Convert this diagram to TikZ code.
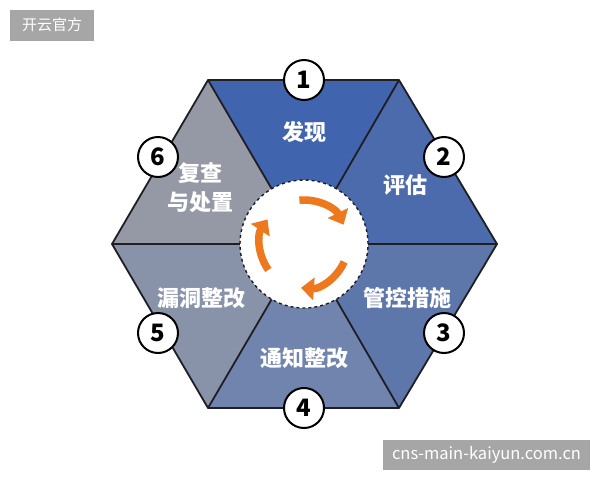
\documentclass[tikz,border=0pt]{standalone}
\usepackage{xcolor}
\usepackage{fontspec}
\newfontfamily\cjk{Noto Sans CJK SC}
\usetikzlibrary{arrows.meta}

\begin{document}
\begin{tikzpicture}[x=1pt,y=-1pt,
  seg/.style={draw={rgb,255:red,30;green,30;blue,35},line width=1.8pt,line join=round},
  lbl/.style={text=white,font=\cjk\bfseries\fontsize{22}{29}\selectfont,align=center},
  num/.style={circle,draw=black,fill=white,line width=2pt,minimum size=40pt,inner sep=0pt,font=\cjk\bfseries\fontsize{24}{24}\selectfont},
  tag/.style={fill={rgb,255:red,166;green,166;blue,166},text=white,inner sep=0pt,font=\cjk\fontsize{15}{15}\selectfont},
  swirl/.style={draw={rgb,255:red,238;green,120;blue,30},line width=7.5pt,-{Triangle[length=13pt,width=22pt]}}]
\useasboundingbox (0,0) rectangle (600,480);
\coordinate (o) at (304,244);
\coordinate (v1) at (208,80);
\coordinate (v2) at (399,80);
\coordinate (v3) at (497,244);
\coordinate (v4) at (399,408);
\coordinate (v5) at (208,408);
\coordinate (v6) at (112,244);
\fill[fill={rgb,255:red,64;green,100;blue,174}] (o) -- (v1) -- (v2) -- cycle;
\fill[fill={rgb,255:red,76;green,107;blue,172}] (o) -- (v2) -- (v3) -- cycle;
\fill[fill={rgb,255:red,94;green,119;blue,171}] (o) -- (v3) -- (v4) -- cycle;
\fill[fill={rgb,255:red,113;green,132;blue,174}] (o) -- (v4) -- (v5) -- cycle;
\fill[fill={rgb,255:red,136;green,146;blue,168}] (o) -- (v5) -- (v6) -- cycle;
\fill[fill={rgb,255:red,148;green,153;blue,165}] (o) -- (v6) -- (v1) -- cycle;
\foreach \v in {v1,v2,v3,v4,v5,v6}
  \draw[seg] (o) -- (\v);
\draw[seg] (v1) -- (v2) -- (v3) -- (v4) -- (v5) -- (v6) -- cycle;
\node[circle,fill=white,draw={rgb,255:red,30;green,30;blue,35},dashed,line width=1.4pt,minimum size=128pt,inner sep=0pt] (hub) at (o) {};
\draw[swirl] ([shift={(96:44pt)}]o) arc[start angle=96,end angle=26,radius=44pt];
\draw[swirl] ([shift={(-24:44pt)}]o) arc[start angle=-24,end angle=-94,radius=44pt];
\draw[swirl] ([shift={(216:44pt)}]o) arc[start angle=216,end angle=146,radius=44pt];
\node[lbl] (t1) at (304,132) {发现};
\node[lbl] (t2) at (405,185) {评估};
\node[lbl] (t3) at (407,298) {管控措施};
\node[lbl] (t4) at (304,358) {通知整改};
\node[lbl] (t5) at (201,298) {漏洞整改};
\node[lbl] (t6) at (200,188) {复查\\与处置};
\node[num] (n1) at (304,80) {1};
\node[num] (n2) at (444,157) {2};
\node[num] (n3) at (444,333) {3};
\node[num] (n4) at (304,408) {4};
\node[num] (n5) at (158,333) {5};
\node[num] (n6) at (158,157) {6};
\node[tag,minimum width=84pt,minimum height=31pt] (m1) at (52,25) {开云官方};
\node[tag,minimum width=207pt,minimum height=30pt,font=\cjk\fontsize{16.5}{16.5}\selectfont] (m2) at (486.5,455) {cns-main-kaiyun.com.cn};
\end{tikzpicture}
\end{document}
